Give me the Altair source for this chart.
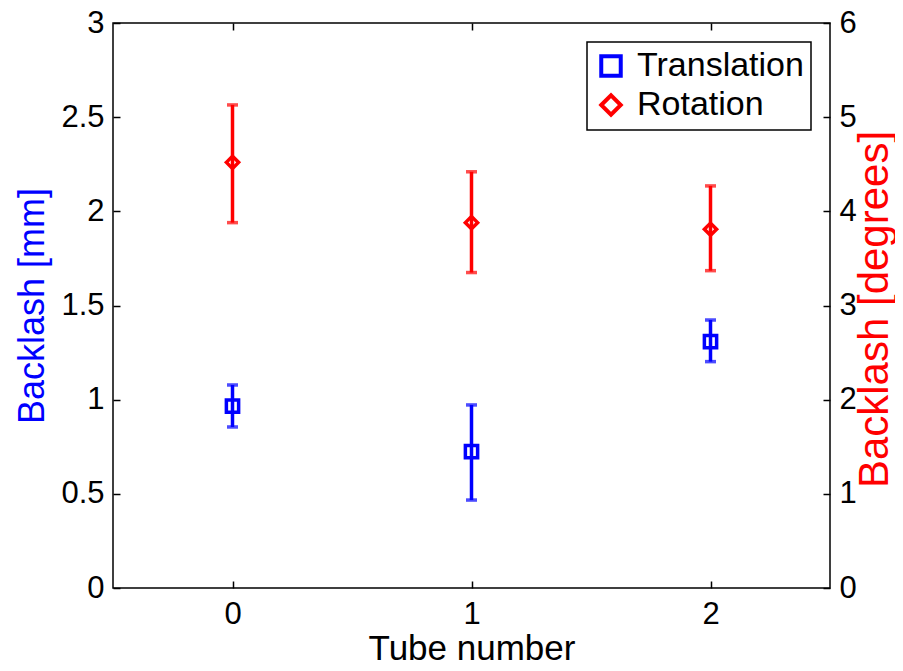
import altair as alt
import pandas as pd

tubes = [0, 1, 2]

trans_mean = [0.966, 0.724, 1.308]
trans_lo = [0.855, 0.467, 1.202]
trans_hi = [1.078, 0.972, 1.423]

rot_mean = [4.52, 3.88, 3.81]
rot_lo = [3.88, 3.35, 3.37]
rot_hi = [5.13, 4.42, 4.27]

series_names = ["Translation", "Rotation"]
series_colors = ["blue", "red"]
series_shapes = ["square", "diamond"]

x_ticks = [0, 1, 2]
left_ticks = [0, 0.5, 1, 1.5, 2, 2.5, 3]
right_ticks = [0, 1, 2, 3, 4, 5, 6]

trans_df = pd.DataFrame({"tube": tubes, "mean": trans_mean, "lo": trans_lo,
                         "hi": trans_hi, "series": "Translation"})
rot_df = pd.DataFrame({"tube": tubes, "mean": rot_mean, "lo": rot_lo,
                       "hi": rot_hi, "series": "Rotation"})

FONT = "Liberation Sans"
xscale = alt.Scale(domain=[-0.5, 2.5], nice=False, zero=False)
color_scale = alt.Scale(domain=series_names, range=series_colors)
shape_scale = alt.Scale(domain=series_names, range=series_shapes)

legend = alt.Legend(title=None, orient="none", legendX=474, legendY=19,
                    strokeColor="black", fillColor="white", padding=7,
                    labelFontSize=34, labelFont=FONT, labelColor="black",
                    symbolSize=380, symbolStrokeWidth=4, labelOffset=9,
                    rowPadding=3, labelLimit=400)


def series_layer(df, color, ydomain, yaxis, xaxis):
    yscale = alt.Scale(domain=ydomain, nice=False, zero=False)
    base = alt.Chart(df)
    rule = base.mark_rule(color=color, strokeWidth=3.5).encode(
        x=alt.X("tube:Q", scale=xscale, axis=xaxis),
        y=alt.Y("lo:Q", scale=yscale, axis=yaxis),
        y2="hi:Q",
    )
    cap_lo = base.mark_tick(color=color, thickness=3.5, size=11, orient="horizontal").encode(
        x=alt.X("tube:Q", scale=xscale, axis=xaxis),
        y=alt.Y("lo:Q", scale=yscale, axis=yaxis),
    )
    cap_hi = base.mark_tick(color=color, thickness=3.5, size=11, orient="horizontal").encode(
        x=alt.X("tube:Q", scale=xscale, axis=xaxis),
        y=alt.Y("hi:Q", scale=yscale, axis=yaxis),
    )
    pts = base.mark_point(filled=False, strokeWidth=3.5, size=150, opacity=1).encode(
        x=alt.X("tube:Q", scale=xscale, axis=xaxis),
        y=alt.Y("mean:Q", scale=yscale, axis=yaxis),
        color=alt.Color("series:N", scale=color_scale, legend=legend),
        shape=alt.Shape("series:N", scale=shape_scale, legend=legend),
    )
    return alt.layer(rule, cap_lo, cap_hi, pts)


common_axis = dict(labelFont=FONT, labelFontSize=31, labelColor="black",
                   tickColor="black", tickWidth=1.5, tickSize=7, offset=-7,
                   domain=False, grid=False, titleFont=FONT,
                   titleFontWeight="normal", format="~g")

left_axis = alt.Axis(orient="left", values=left_ticks, title="Backlash [mm]",
                     titleColor="blue", labelPadding=9, titleAngle=270,
                     titleFontSize=36, titleX=-77, titleY=282.5,
                     titleAlign="center", titleBaseline="alphabetic",
                     **common_axis)
right_axis = alt.Axis(orient="right", values=right_ticks, title="Backlash [degrees]",
                      titleColor="red", labelPadding=9, titleAngle=270,
                      titleFontSize=42, titleX=64, titleY=286,
                      titleAlign="center", titleBaseline="alphabetic",
                      **common_axis)
bottom_axis = alt.Axis(orient="bottom", values=x_ticks, title="Tube number",
                       titleColor="black", labelPadding=11, titleFontSize=35,
                       titleX=358.5, titleY=78, titleAlign="center",
                       titleBaseline="alphabetic", **common_axis)
top_axis = alt.Axis(orient="top", values=x_ticks, title=None, labels=False,
                    **common_axis)

trans = series_layer(trans_df, "blue", [0, 3], left_axis, bottom_axis)
rot = series_layer(rot_df, "red", [0, 6], right_axis, top_axis)

chart = alt.layer(trans, rot).resolve_scale(
    y="independent"
).resolve_axis(
    x="independent", y="independent"
).properties(
    width=717, height=565,
    autosize=alt.AutoSizeParams(type="none"),
    padding={"left": 105, "top": 15, "right": 65, "bottom": 75},
    background="white",
).configure_view(
    stroke="black", strokeWidth=1.5
).configure_legend(
    strokeWidth=1.5
)

chart.save("out.html", embed_options={"renderer": "svg", "actions": False})
